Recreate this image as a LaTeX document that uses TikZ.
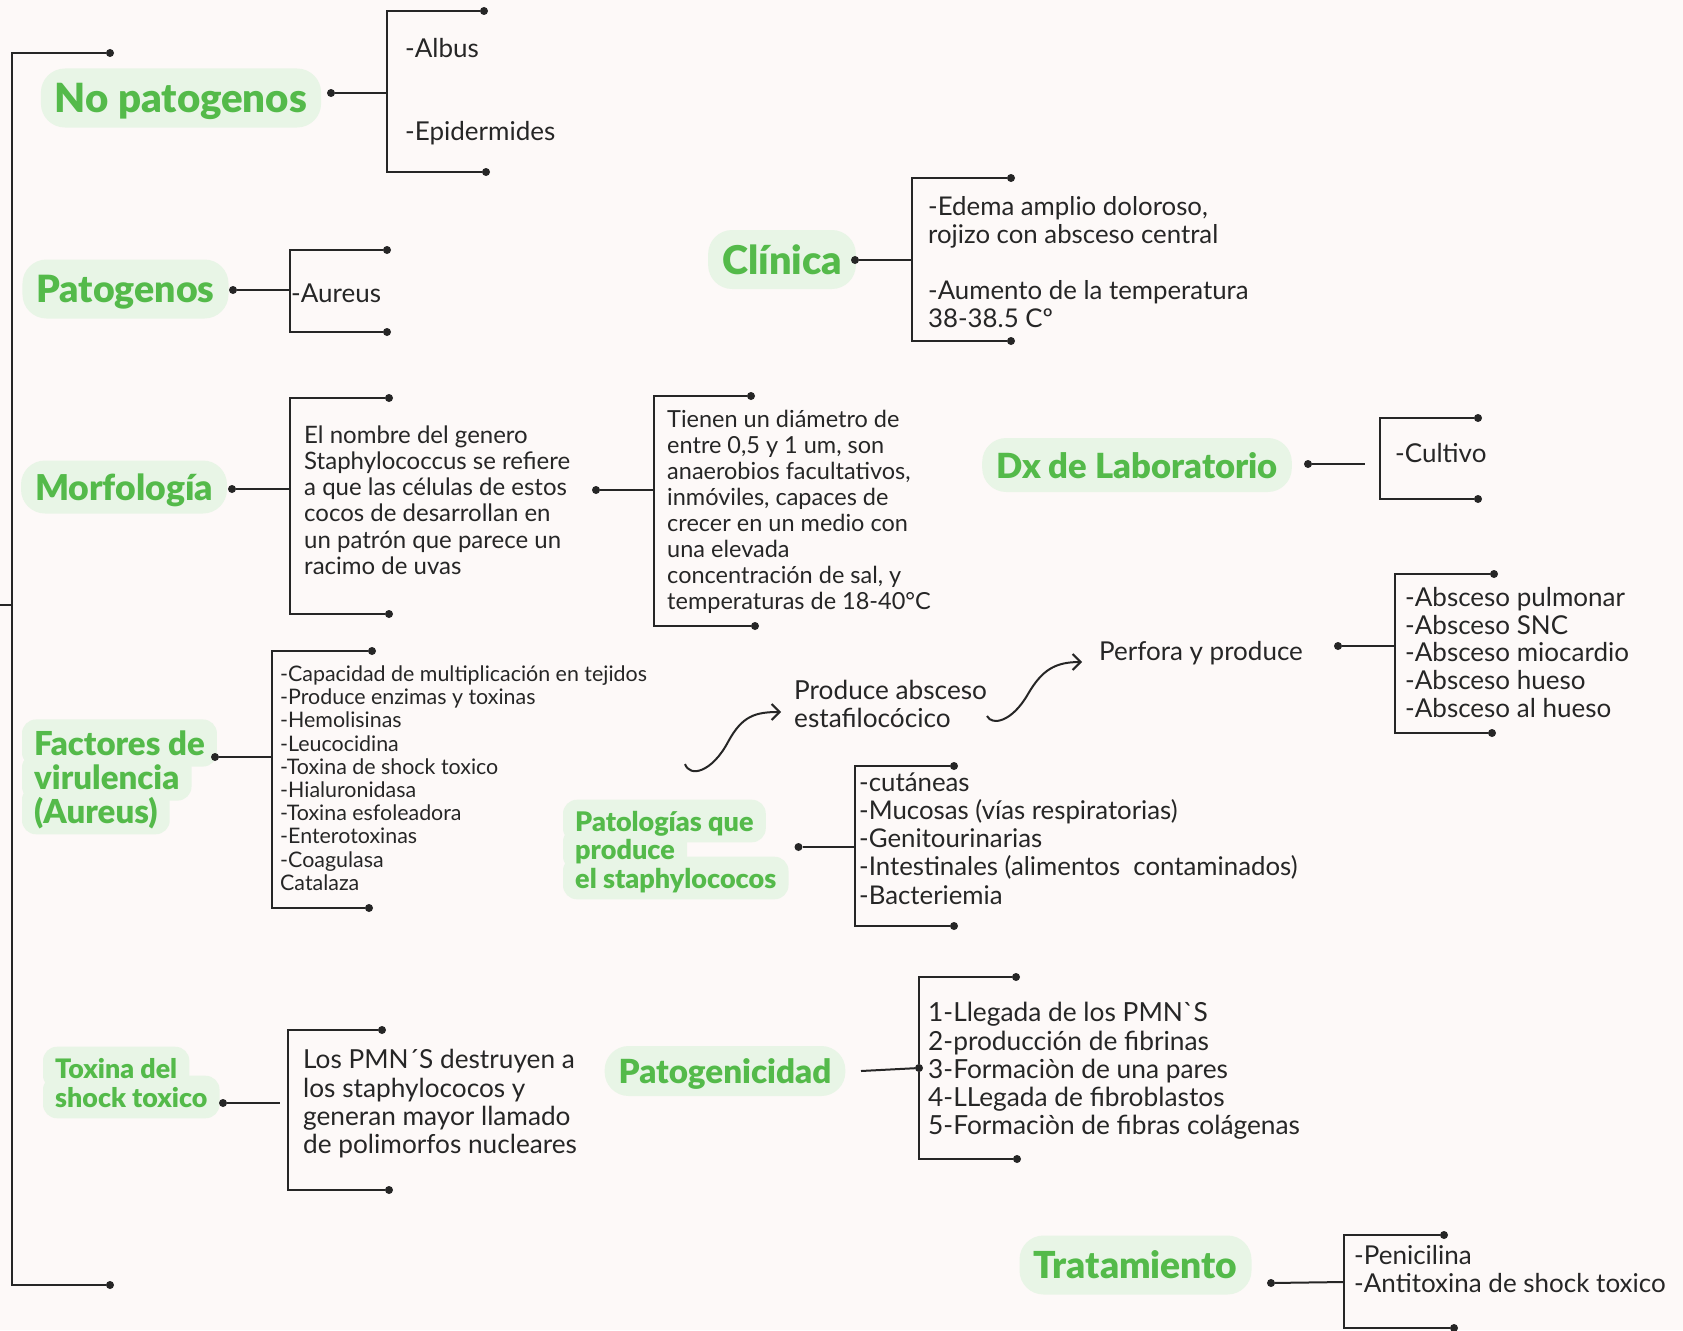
\documentclass[tikz,border=0pt]{standalone}
\usepackage{fontspec}
\newfontfamily\bodyfont{Lato}[BoldFont={Lato Black}]
\usetikzlibrary{arrows.meta,backgrounds}

\definecolor{pagebg}{RGB}{253,249,248}
\definecolor{leafgreen}{RGB}{84,186,74}
\definecolor{softgreen}{RGB}{232,245,230}
\definecolor{inkgray}{RGB}{38,38,38}

\tikzset{
  link/.style={line width=2pt, draw=inkgray},
  dot/.style={circle, fill=inkgray, inner sep=0pt, minimum size=8pt},
  pill/.style={fill=softgreen, rounded corners=24pt, inner xsep=14pt, inner ysep=0pt,
    minimum height=59pt, text depth=0pt, text=leafgreen,
    font={\bodyfont\bfseries\fontsize{#1}{#1}\selectfont}},
  blobline/.style={anchor=west, inner xsep=12pt, inner ysep=11pt, text depth=0pt,
    text=leafgreen, font={\bodyfont\bfseries\fontsize{#1}{#1}\selectfont}},
  leaf/.style 2 args={anchor=west, align=left, inner sep=0pt, text=inkgray,
    font={\bodyfont\fontsize{#1}{#2}\selectfont}},
}

\begin{document}
\begin{tikzpicture}[x=1pt,y=-1pt]
\useasboundingbox (0,0) rectangle (1683,1330);
\begin{scope}[on background layer]
\fill[pagebg] (0,0) rectangle (1683,1330);
\end{scope}

\node[dot] (sp-t) at (110,53) {};
\node[dot] (sp-b) at (110,1285) {};
\coordinate (sp-j) at (12,605);
\coordinate (sp-l) at (0,605);
\draw[link] (sp-t) -| (sp-j) |- (sp-b);
\draw[link] (sp-l) -- (sp-j);

\node[pill=40.2] (nopat) at (181,98) {No patogenos};
\node[dot] (nopat-d) at (331,93) {};
\coordinate (nopat-j) at (387,93);
\node[dot] (nopat-t) at (484,11) {};
\node[dot] (nopat-b) at (486,172) {};
\draw[link] (nopat-d) -- (nopat-j);
\draw[link] (nopat-t) -| (nopat-j) |- (nopat-b);
\node[leaf={26}{28}] (albus) at (405,48) {-Albus};
\node[leaf={26}{28}] (epider) at (405,133) {-Epidermides};

\node[pill=37.5] (pat) at (125.5,289) {Patogenos};
\node[dot] (pat-d) at (233,290) {};
\coordinate (pat-j) at (290,290);
\node[dot] (pat-t) at (387,250) {};
\node[dot] (pat-b) at (387,332) {};
\draw[link] (pat-d) -- (pat-j);
\draw[link] (pat-t) -| (pat-j) |- (pat-b);
\node[leaf={26}{28}] (aureus) at (291,293) {-Aureus};

\node[pill=35.6, minimum height=53] (morf) at (124,487) {Morfología};
\node[dot] (morf-d) at (232,489) {};
\coordinate (morf-j) at (290,489);
\node[dot] (morf-t) at (389,398) {};
\node[dot] (morf-b) at (389,614) {};
\draw[link] (morf-d) -- (morf-j);
\draw[link] (morf-t) -| (morf-j) |- (morf-b);
\node[leaf={24}{26.2}] (genero) at (304,500) {El nombre del genero\\Staphylococcus se refiere\\a que las células de estos\\cocos de desarrollan en\\un patrón que parece un\\racimo de uvas};
\node[dot] (gen-d) at (596,490) {};
\coordinate (gen-j) at (654,490);
\node[dot] (gen-t) at (751,396) {};
\node[dot] (gen-b) at (755,626) {};
\draw[link] (gen-d) -- (gen-j);
\draw[link] (gen-t) -| (gen-j) |- (gen-b);
\node[leaf={23.5}{25.9}] (diam) at (667,512) {Tienen un diámetro de\\entre 0,5 y 1 um, son\\anaerobios facultativos,\\inmóviles, capaces de\\crecer en un medio con\\una elevada\\concentración de sal, y\\temperaturas de 18-40°C};

\node[pill=39.6] (clin) at (782,259.5) {Clínica};
\node[dot] (clin-d) at (855,260) {};
\coordinate (clin-j) at (912,260);
\node[dot] (clin-t) at (1011,178) {};
\node[dot] (clin-b) at (1011,341) {};
\draw[link] (clin-d) -- (clin-j);
\draw[link] (clin-t) -| (clin-j) |- (clin-b);
\node[leaf={25.8}{28}] (edema) at (928,262) {-Edema amplio doloroso,\\rojizo con absceso central\\[28pt]-Aumento de la temperatura\\38-38.5 Cº};

\node[pill=34.6, minimum height=54] (dx) at (1137,465) {Dx de Laboratorio};
\node[dot] (dx-d) at (1308,464) {};
\coordinate (dx-e) at (1365,464);
\coordinate (dx-k) at (1380,460);
\node[dot] (dx-t) at (1478,418) {};
\node[dot] (dx-b) at (1478,499) {};
\draw[link] (dx-d) -- (dx-e);
\draw[link] (dx-t) -| (dx-k) |- (dx-b);
\node[leaf={26}{28}] (cult) at (1395,453) {-Cultivo};

\node[blobline=33] (fac1) at (22,743) {Factores de};
\node[blobline=33] (fac2) at (22,777) {virulencia};
\node[blobline=33] (fac3) at (22,810) {(Aureus)};
\node[dot] (fac-d) at (215,757) {};
\coordinate (fac-j) at (272,757);
\node[dot] (fac-t) at (372,651) {};
\node[dot] (fac-b) at (369,908) {};
\draw[link] (fac-d) -- (fac-j);
\draw[link] (fac-t) -| (fac-j) |- (fac-b);
\node[leaf={21.4}{23.2}] (capac) at (280,778) {-Capacidad de multiplicación en tejidos\\-Produce enzimas y toxinas\\-Hemolisinas\\-Leucocidina\\-Toxina de shock toxico\\-Hialuronidasa\\-Toxina esfoleadora\\-Enterotoxinas\\-Coagulasa\\Catalaza};

\node[blobline=27] (pato1) at (563,821) {Patologías que};
\node[blobline=27] (pato2) at (563,849) {produce};
\node[blobline=27] (pato3) at (563,878) {el staphylococos};
\node[dot] (pato-d) at (798.5,847) {};
\coordinate (pato-j) at (855,847);
\node[dot] (pato-t) at (954,766) {};
\node[dot] (pato-b) at (954,926) {};
\draw[link] (pato-d) -- (pato-j);
\draw[link] (pato-t) -| (pato-j) |- (pato-b);
\node[leaf={25.8}{28.2}] (cutan) at (859,838.5) {-cutáneas\\-Mucosas (vías respiratorias)\\-Genitourinarias\\-Intestinales (alimentos\ \ contaminados)\\-Bacteriemia};

\node[leaf={26.2}{28}] (absc) at (794,704) {Produce absceso\\estafilocócico};
\node[leaf={26}{28}] (perf) at (1099,653) {Perfora y produce};
\coordinate (ar1-s) at (685,764);
\coordinate (ar1-e) at (781,712);
\coordinate (ar2-s) at (987,716);
\coordinate (ar2-e) at (1082,662);
\draw[link, -{Straight Barb[length=8pt,width=16pt]}] (ar1-s) .. controls (690,778) and (712,772) .. (728,742) .. controls (742,716) and (755,712) .. (ar1-e);
\draw[link, -{Straight Barb[length=8pt,width=16pt]}] (ar2-s) .. controls (992,726) and (1012,722) .. (1028,694) .. controls (1042,670) and (1055,662) .. (ar2-e);
\node[dot] (perf-d) at (1338,646) {};
\coordinate (perf-j) at (1395,646);
\node[dot] (perf-t) at (1494,574) {};
\node[dot] (perf-b) at (1492,733) {};
\draw[link] (perf-d) -- (perf-j);
\draw[link] (perf-t) -| (perf-j) |- (perf-b);
\node[leaf={26}{27.9}] (pulmo) at (1405,652.5) {-Absceso pulmonar\\-Absceso SNC\\-Absceso miocardio\\-Absceso hueso\\-Absceso al hueso};

\node[blobline=26.8] (tox1) at (43,1068) {Toxina del};
\node[blobline=26.8] (tox2) at (43,1097) {shock toxico};
\node[dot] (tox-d) at (223,1103) {};
\coordinate (tox-e) at (280,1103);
\coordinate (tox-k) at (288,1110);
\node[dot] (tox-t) at (382,1030) {};
\node[dot] (tox-b) at (389,1190) {};
\draw[link] (tox-d) -- (tox-e);
\draw[link] (tox-t) -| (tox-k) |- (tox-b);
\node[leaf={26.2}{28.3}] (pmn) at (303,1104) {Los PMN´S destruyen a\\los staphylococos y\\generan mayor llamado\\de polimorfos nucleares};

\node[pill=33.2, minimum height=50] (patog) at (725,1071) {Patogenicidad};
\coordinate (patog-s) at (861,1071);
\node[dot] (patog-d) at (919,1068) {};
\node[dot] (patog-t) at (1016,977) {};
\node[dot] (patog-b) at (1017,1159) {};
\draw[link] (patog-s) -- (patog-d);
\draw[link] (patog-t) -| (patog-d) |- (patog-b);
\node[leaf={26.3}{28.2}] (llegada) at (928,1071) {1-Llegada de los PMN`S\\2-producción de fibrinas\\3-Formaciòn de una pares\\4-LLegada de fibroblastos\\5-Formaciòn de fibras colágenas};

\node[pill=37.2] (trat) at (1135.5,1265) {Tratamiento};
\node[dot] (trat-d) at (1271,1283) {};
\coordinate (trat-j) at (1344,1282);
\node[dot] (trat-t) at (1444,1235) {};
\node[dot] (trat-b) at (1454,1328) {};
\draw[link] (trat-d) -- (trat-j);
\draw[link] (trat-t) -| (trat-j) |- (trat-b);
\node[leaf={26}{28}] (penic) at (1354,1269) {-Penicilina\\-Antitoxina de shock toxico};

\begin{scope}[on background layer]
\foreach \n in {fac1,fac2,fac3,pato1,pato2,pato3,tox1,tox2}
  \fill[softgreen, rounded corners=14pt] (\n.north west) rectangle (\n.south east);
\end{scope}
\end{tikzpicture}
\end{document}
